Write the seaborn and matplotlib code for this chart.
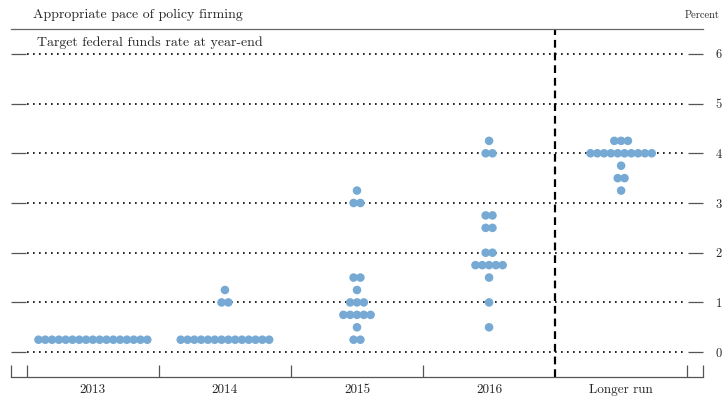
import numpy as np
import pandas as pd
import matplotlib
matplotlib.use("Agg")
import matplotlib.pyplot as plt
import seaborn as sns

# ---- data ----
categories = ["2013", "2014", "2015", "2016", "Longer run"]
rates_2013 = [0.25]
counts_2013 = [17]
rates_2014 = [0.25, 1.0, 1.25]
counts_2014 = [14, 2, 1]
rates_2015 = [0.25, 0.5, 0.75, 1.0, 1.25, 1.5, 3.0, 3.25]
counts_2015 = [2, 1, 5, 3, 1, 2, 2, 1]
rates_2016 = [0.5, 1.0, 1.5, 1.75, 2.0, 2.5, 2.75, 4.0, 4.25]
counts_2016 = [1, 1, 1, 5, 2, 2, 2, 2, 1]
rates_lr = [3.25, 3.5, 3.75, 4.0, 4.25]
counts_lr = [1, 2, 1, 10, 3]
y_ticks = [0, 1, 2, 3, 4, 5, 6]

series = [(rates_2013, counts_2013), (rates_2014, counts_2014),
          (rates_2015, counts_2015), (rates_2016, counts_2016),
          (rates_lr, counts_lr)]

spacing = 0.0515
rows = []
for ci, (rates, counts) in enumerate(series):
    for r, n in zip(rates, counts):
        for j in range(n):
            rows.append({"x": ci + (j - (n - 1) / 2) * spacing, "rate": r})
df = pd.DataFrame(rows)

sns.set_style("white")
plt.rcParams["font.family"] = ["cmr10", "DejaVu Serif"]
plt.rcParams["axes.formatter.use_mathtext"] = True

W, H = 723, 401
fig = plt.figure(figsize=(W / 100, H / 100), dpi=100)
ax = fig.add_axes([11 / W, 1 - 377 / H, (703 - 11) / W, (377 - 29) / H])

sns.scatterplot(data=df, x="x", y="rate", ax=ax, s=38, color="#76a9d3",
                edgecolor="none", linewidth=0, zorder=3, legend=False)

ax.set_xlim(-0.62, 4.62)
ax.set_ylim(-0.5, 6.5)

# dotted gridlines
for yv in y_ticks:
    ax.hlines(yv, -0.5, 4.5, colors="black", linestyles=(0, (1, 2.6)),
              linewidth=1.2, zorder=1)

# dashed separator
ax.axvline(3.5, color="black", linestyle=(0, (3.5, 2.2)), linewidth=1.6, zorder=2)

# spines
for s in ["left", "right"]:
    ax.spines[s].set_visible(False)
ax.spines["top"].set_color("#666666")
ax.spines["top"].set_linewidth(0.9)
ax.spines["bottom"].set_color("#555555")
ax.spines["bottom"].set_linewidth(0.9)

# y ticks: inward on both sides, labels on right
ax.set_yticks(y_ticks)
ax.set_yticklabels([str(v) for v in y_ticks])
ax.tick_params(axis="y", which="major", direction="in", length=11, width=0.9,
               color="#555555", left=True, right=True, labelleft=False,
               labelright=True, pad=9, labelsize=9)

# x ticks: boundaries as major ticks, categories as minor labels
bounds = [-0.62, -0.5, 0.5, 1.5, 2.5, 4.5, 4.62]
ax.set_xticks(bounds)
ax.set_xticklabels([""] * len(bounds))
ax.tick_params(axis="x", which="major", direction="in", length=9, width=0.9,
               color="#555555", bottom=True, top=False)
ax.set_xticks(range(len(categories)), minor=True)
ax.set_xticklabels(categories, minor=True)
ax.tick_params(axis="x", which="minor", length=0, pad=5, labelsize=9.5)

ax.set_xlabel("")
ax.set_ylabel("")

fig.text(33 / W, 1 - 15 / H, "Appropriate pace of policy firming",
         ha="left", va="center", fontsize=10)
fig.text(720 / W, 1 - 15 / H, "Percent", ha="right", va="center", fontsize=7.5)
fig.text(37 / W, 1 - 43 / H, "Target federal funds rate at year-end",
         ha="left", va="center", fontsize=10)

fig.savefig("out.png", dpi=100)
